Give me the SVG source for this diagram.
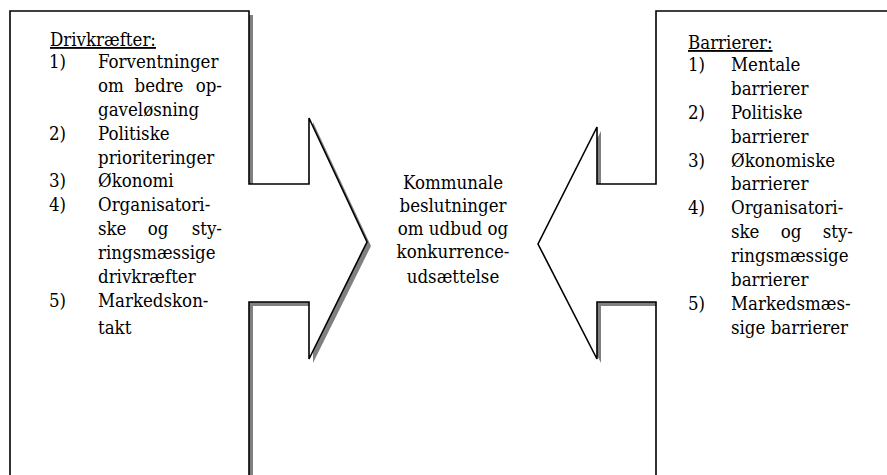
<svg xmlns="http://www.w3.org/2000/svg" width="887" height="475" viewBox="0 0 887 475">
<defs>
<style>
.shape{fill:#fff;stroke:#000;stroke-width:1.6;stroke-linejoin:miter}
.shadow{fill:#808080;stroke:none}
.t text{font-family:'DejaVu Serif Condensed','DejaVu Serif',serif;font-stretch:condensed;font-size:18.5px;fill:#000}
.end{text-anchor:end}
.mid{text-anchor:middle}
.u{text-decoration:underline}
</style>
</defs>
<rect width="887" height="475" fill="#fff"/>
<g id="drivkraefter" class="t">
<path class="shadow" transform="translate(4,4)" d="M10,11 H249 V184 H309 V118 L367,242 L309,359 V302 H249 V490 H10 Z"/>
<path class="shape" d="M10,11 H249 V184 H309 V118 L367,242 L309,359 V302 H249 V490 H10 Z"/>
<text x="50" y="46" class="u">Drivkræfter:</text>
<text x="49" y="68">1)</text><text x="98" y="68">Forventninger</text>
<text x="98" y="92">om</text><text x="159" y="92" class="mid">bedre</text><text x="222" y="92" class="end">op-</text>
<text x="98" y="116">gaveløsning</text>
<text x="49" y="140">2)</text><text x="98" y="140">Politiske</text>
<text x="98" y="164">prioriteringer</text>
<text x="49" y="187">3)</text><text x="98" y="187">Økonomi</text>
<text x="49" y="211">4)</text><text x="98" y="211">Organisatori-</text>
<text x="98" y="235">ske</text><text x="158" y="235" class="mid">og</text><text x="222" y="235" class="end">sty-</text>
<text x="98" y="259">ringsmæssige</text>
<text x="98" y="283">drivkræfter</text>
<text x="49" y="307">5)</text><text x="98" y="307">Markedskon-</text>
<text x="98" y="334">takt</text>
</g>
<g id="barrierer" class="t">
<path class="shadow" transform="translate(4,4)" d="M900,11 H656 V184 H597 V127 L538,244 L597,359 V302 H656 V490 H900 Z"/>
<path class="shape" d="M900,11 H656 V184 H597 V127 L538,244 L597,359 V302 H656 V490 H900 Z"/>
<text x="688" y="49" class="u">Barrierer:</text>
<text x="688" y="71">1)</text><text x="731" y="71">Mentale</text>
<text x="731" y="95">barrierer</text>
<text x="688" y="119">2)</text><text x="731" y="119">Politiske</text>
<text x="731" y="143">barrierer</text>
<text x="688" y="167">3)</text><text x="731" y="167">Økonomiske</text>
<text x="731" y="190">barrierer</text>
<text x="688" y="214">4)</text><text x="731" y="214">Organisatori-</text>
<text x="731" y="238">ske</text><text x="791" y="238" class="mid">og</text><text x="853" y="238" class="end">sty-</text>
<text x="731" y="262">ringsmæssige</text>
<text x="731" y="286">barrierer</text>
<text x="688" y="310">5)</text><text x="731" y="310">Markedsmæs-</text>
<text x="731" y="334">sige barrierer</text>
</g>
<g id="beslutninger" class="t">
<text x="453" y="189" class="mid">Kommunale</text>
<text x="453" y="212" class="mid">beslutninger</text>
<text x="453" y="235" class="mid">om udbud og</text>
<text x="453" y="258" class="mid">konkurrence-</text>
<text x="453" y="283" class="mid">udsættelse</text>
</g>
<g id="connectors"></g>
</svg>
